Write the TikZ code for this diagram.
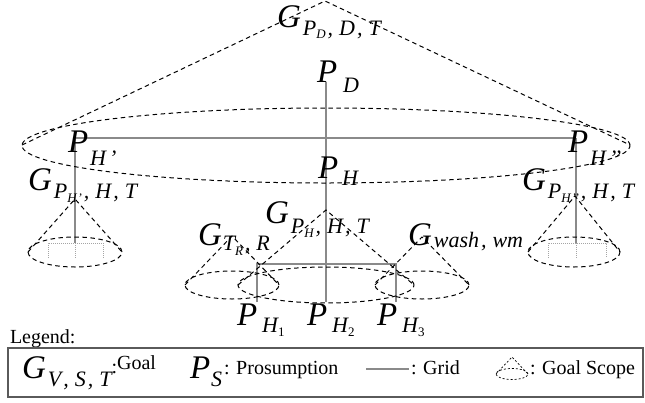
\documentclass[tikz,border=0pt]{standalone}
\usepackage{fontspec}
\setmainfont{Liberation Serif}
\definecolor{gridgray}{RGB}{138,138,138}
\definecolor{dotgray}{RGB}{165,165,165}
\definecolor{boxgray}{RGB}{90,90,90}
\newcommand\Mf{\fontsize{33}{33}\selectfont\itshape}
\newcommand\Sf{\fontsize{22}{22}\selectfont\itshape}
\newcommand\Tf{\fontsize{13}{13}\selectfont\itshape}
\newcommand\Lf{\fontsize{20}{20}\selectfont\upshape}
\newcommand\SB[2][8pt]{\raisebox{-#1}{\Sf #2}}
\newcommand\TB[2][4pt]{\raisebox{-#1}{\Tf #2}}
\newcommand\CM{\kern2pt,\kern6pt}
\begin{document}
\begin{tikzpicture}[x=1pt,y=-1pt,
  goalscope/.style={draw=black, line width=1pt, dash pattern=on 4.5pt off 3.5pt},
  gridline/.style={draw=gridgray, line width=2pt},
  dotline/.style={draw=dotgray, line width=1pt, dash pattern=on 1pt off 1pt},
  legbox/.style={draw=boxgray, line width=1.2pt},
  lab/.style={anchor=base west, inner sep=0pt, outer sep=0pt}]
\useasboundingbox (0,0) rectangle (645,402);

% ---------- grid ----------
\coordinate (gPD) at (326,82);
\coordinate (gHL) at (75,138);
\coordinate (gHR) at (576,138);
\coordinate (gLend) at (75,243);
\coordinate (gRend) at (576,243);
\coordinate (gP2) at (326,302);
\coordinate (gP1) at (257,302);
\coordinate (gP3) at (396,302);
\coordinate (gB1) at (257,264);
\coordinate (gB3) at (396,264);
\draw[gridline] (gHL) -- (gHR);
\draw[gridline] (gPD) -- (gP2);
\draw[gridline] (gHL) -- (gLend);
\draw[gridline] (gHR) -- (gRend);
\draw[gridline] (gP1) -- (gB1) -- (gB3) -- (gP3);

% dotted sub-grids in small cones
\draw[dotline] (48,258) -- (48,243) -- (103,243) -- (103,258);
\draw[dotline] (gLend) -- (75,258);
\draw[dotline] (548,258) -- (548,243) -- (606,243) -- (606,258);
\draw[dotline] (gRend) -- (576,258);

% ---------- goal scopes ----------
\coordinate (aD) at (325,1);
\coordinate (bigL) at (22,145);
\coordinate (bigR) at (630,145);
\draw[goalscope] (bigL) -- (aD) -- (bigR);
\draw[goalscope] (326,145.5) ellipse [x radius=304pt, y radius=37.5pt];
\coordinate (aL) at (75,199);
\draw[goalscope] (28,252) -- (aL) -- (122,252);
\draw[goalscope] (75,252) ellipse [x radius=47pt, y radius=15pt];
\coordinate (aR) at (575,196);
\draw[goalscope] (528,252) -- (aR) -- (620,252);
\draw[goalscope] (574,252) ellipse [x radius=46pt, y radius=15pt];
\coordinate (aH) at (326,210);
\draw[goalscope] (238,285) -- (aH) -- (414,285);
\draw[goalscope] (326,285) ellipse [x radius=88pt, y radius=18pt];
\coordinate (aT) at (232,236);
\draw[goalscope] (185,285) -- (aT) -- (279,285);
\draw[goalscope] (232,285) ellipse [x radius=47pt, y radius=14pt];
\coordinate (aW) at (422,237);
\draw[goalscope] (375,285) -- (aW) -- (469,285);
\draw[goalscope] (422,285) ellipse [x radius=47pt, y radius=14pt];

% ---------- labels ----------
\node[lab] (GD) at (277,27) {\Mf G\kern2pt\SB{P\TB[3pt]{D}\CM D\CM T}};
\node[lab] (PD) at (317,82) {\Mf P\kern6pt\SB[10pt]{D}};
\node[lab] (PHa) at (68,152) {\Mf P\kern2pt\SB[13pt]{H\kern3pt’}};
\node[lab] (PHb) at (568,152) {\Mf P\kern2pt\SB[13pt]{H\kern3pt’’}};
\node[lab] (GHa) at (28,190) {\Mf G\kern2pt\SB{P\TB{H\kern1pt’}\CM H\CM T}};
\node[lab] (GHb) at (522,190) {\Mf G\kern2pt\SB{P\TB{H\kern1pt’’}\CM H\CM T}};
\node[lab] (PH) at (318,178) {\Mf P\kern4pt\SB[7pt]{H}};
\node[lab] (GH) at (265,223) {\Mf G\kern2pt\SB[10pt]{P\TB{H}\CM H\CM T}};
\node[lab] (GT) at (198,245) {\Mf G\kern1pt\SB[5pt]{T\TB[5pt]{R}\CM R}};
\node[lab] (GW) at (408,245) {\Mf G\kern2pt\SB[2pt]{wash\CM wm}};
\node[lab] (PH1) at (237,325) {\Mf P\kern5pt\SB[7pt]{H\TB{\upshape 1}}};
\node[lab] (PH2) at (307,325) {\Mf P\kern5pt\SB[7pt]{H\TB{\upshape 2}}};
\node[lab] (PH3) at (377,325) {\Mf P\kern5pt\SB[7pt]{H\TB{\upshape 3}}};

% ---------- legend ----------
\node[lab] (leg) at (10,343) {\Lf Legend:};
\coordinate (lbA) at (8,348);
\coordinate (lbB) at (643,397);
\draw[legbox] (lbA) rectangle (lbB);
\node[lab] (GV) at (22,378) {\Mf G\kern2pt\SB{V\CM S\CM T}};
\node[lab, yshift=5pt] (GVt) at (GV.base east) {\Lf :\raisebox{4pt}{Goal}};
\node[lab] (PS) at (190,378) {\Mf P\kern1pt\SB[8pt]{S}};
\node[lab] (PSt) at (224,374) {\Lf : Prosumption};
\coordinate (gl1) at (366,369);
\coordinate (gl2) at (409,369);
\draw[gridline] (gl1) -- (gl2);
\node[lab] (GRt) at (411,374) {\Lf : Grid};
\coordinate (ia) at (512,357);
\draw[goalscope, line width=0.7pt, dash pattern=on 2pt off 2pt] (496,374) -- (ia) -- (528,374);
\draw[goalscope, line width=0.7pt, dash pattern=on 2pt off 2pt] (512,374) ellipse [x radius=16pt, y radius=5.5pt];
\node[lab] (GSt) at (530,374) {\Lf : Goal Scope};
\end{tikzpicture}
\end{document}
